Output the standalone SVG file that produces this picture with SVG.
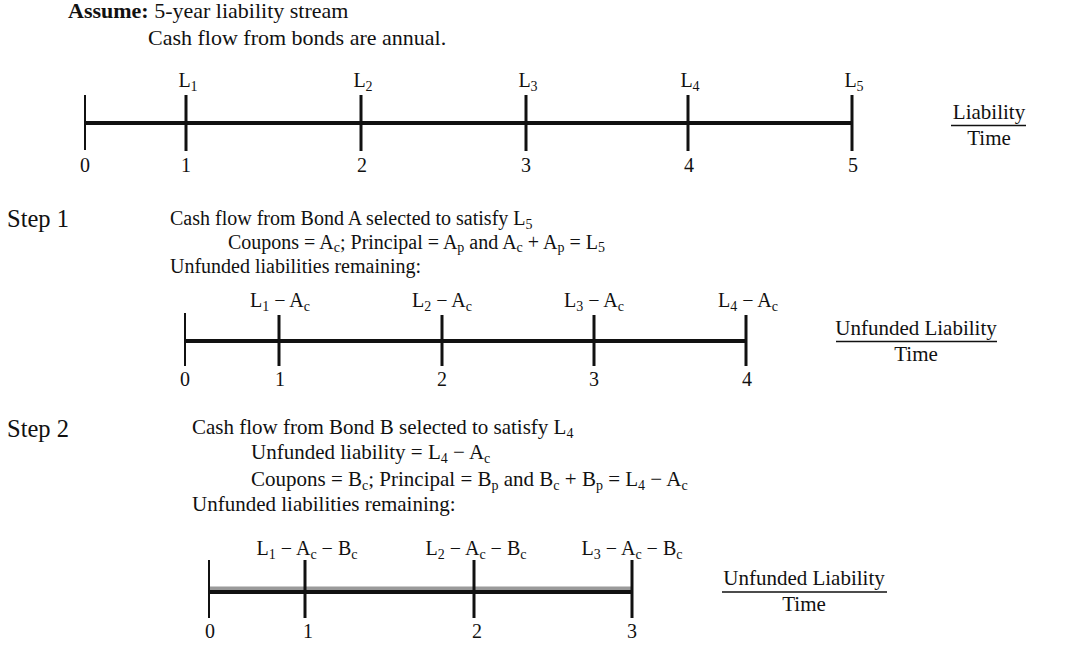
<svg xmlns="http://www.w3.org/2000/svg" width="1066" height="662" viewBox="0 0 1066 662">
<style>
text{font-family:"Liberation Serif","Times New Roman",serif;font-size:20px;fill:#111}
.hd{font-size:22px}
.b{font-weight:bold}
.step{font-size:24.5px}
.s2{font-size:21px}
.lg{font-size:21px}
.m{text-anchor:middle}
.sub{font-size:14px}
.axis{stroke:#111;stroke-width:4;fill:none}
.tick{stroke:#111;stroke-width:3;fill:none}
.tick0{stroke:#111;stroke-width:2;fill:none}
.frac{stroke:#111;stroke-width:1.5}
</style>
<rect width="1066" height="662" fill="#fff"/>

<g id="header">
<text class="hd" x="68" y="18"><tspan class="b">Assume:</tspan> 5-year liability stream</text>
<text class="hd" x="148" y="45">Cash flow from bonds are annual.</text>
</g>

<g id="timeline1">
<g id="t1-connectors">
<line class="axis" x1="85" y1="123" x2="852" y2="123"/>
<line class="tick0" x1="85" y1="95" x2="85" y2="150"/>
<line class="tick" x1="186" y1="95" x2="186" y2="151"/>
<line class="tick" x1="361" y1="95" x2="361" y2="151"/>
<line class="tick" x1="526" y1="95" x2="526" y2="151"/>
<line class="tick" x1="688" y1="95" x2="688" y2="151"/>
<line class="tick" x1="852" y1="95" x2="852" y2="151"/>
</g>
<text class="m" x="188" y="87">L<tspan class="sub" dy="4">1</tspan></text>
<text class="m" x="363" y="87">L<tspan class="sub" dy="4">2</tspan></text>
<text class="m" x="528" y="87">L<tspan class="sub" dy="4">3</tspan></text>
<text class="m" x="690" y="87">L<tspan class="sub" dy="4">4</tspan></text>
<text class="m" x="854" y="87">L<tspan class="sub" dy="4">5</tspan></text>
<text class="m" x="85" y="172">0</text>
<text class="m" x="186" y="172">1</text>
<text class="m" x="362" y="172">2</text>
<text class="m" x="526" y="172">3</text>
<text class="m" x="689" y="172">4</text>
<text class="m" x="853" y="172">5</text>
<g id="t1-legend">
<text class="m lg" x="989" y="119">Liability</text>
<line class="frac" x1="951" y1="125.5" x2="1026" y2="125.5"/>
<text class="m lg" x="989" y="145">Time</text>
</g>
</g>

<g id="step1">
<text class="step" x="7" y="227">Step 1</text>
<text x="170" y="225">Cash flow from Bond A selected to satisfy L<tspan class="sub" dy="4">5</tspan></text>
<text x="228" y="249">Coupons = A<tspan class="sub" dy="3">c</tspan><tspan dy="-3">; Principal = A</tspan><tspan class="sub" dy="3">p</tspan><tspan dy="-3"> and A</tspan><tspan class="sub" dy="3">c</tspan><tspan dy="-3"> + A</tspan><tspan class="sub" dy="3">p</tspan><tspan dy="-3"> = L</tspan><tspan class="sub" dy="3">5</tspan></text>
<text x="170" y="273">Unfunded liabilities remaining:</text>
</g>

<g id="timeline2">
<g id="t2-connectors">
<line class="axis" x1="185" y1="341" x2="746" y2="341" stroke-width="3.5"/>
<line class="tick0" x1="185" y1="313" x2="185" y2="366"/>
<line class="tick" x1="279" y1="315" x2="279" y2="366"/>
<line class="tick" x1="442" y1="315" x2="442" y2="366"/>
<line class="tick" x1="594" y1="315" x2="594" y2="366"/>
<line class="tick" x1="746" y1="315" x2="746" y2="366"/>
</g>
<text class="m" x="280" y="307">L<tspan class="sub" dy="4">1</tspan><tspan dy="-4"> − A</tspan><tspan class="sub" dy="4">c</tspan></text>
<text class="m" x="442" y="307">L<tspan class="sub" dy="4">2</tspan><tspan dy="-4"> − A</tspan><tspan class="sub" dy="4">c</tspan></text>
<text class="m" x="594" y="307">L<tspan class="sub" dy="4">3</tspan><tspan dy="-4"> − A</tspan><tspan class="sub" dy="4">c</tspan></text>
<text class="m" x="748" y="307">L<tspan class="sub" dy="4">4</tspan><tspan dy="-4"> − A</tspan><tspan class="sub" dy="4">c</tspan></text>
<text class="m" x="185" y="386">0</text>
<text class="m" x="280" y="386">1</text>
<text class="m" x="442" y="386">2</text>
<text class="m" x="594" y="386">3</text>
<text class="m" x="747" y="386">4</text>
<g id="t2-legend">
<text class="m lg" x="916" y="335">Unfunded Liability</text>
<line class="frac" x1="836" y1="341.5" x2="997" y2="341.5"/>
<text class="m lg" x="916" y="361">Time</text>
</g>
</g>

<g id="step2">
<text class="step" x="7" y="437">Step 2</text>
<text class="s2" x="192" y="434">Cash flow from Bond B selected to satisfy L<tspan class="sub" dy="4">4</tspan></text>
<text class="s2" x="251" y="459">Unfunded liability = L<tspan class="sub" dy="4">4</tspan><tspan dy="-4"> − A</tspan><tspan class="sub" dy="4">c</tspan></text>
<text class="s2" x="251" y="486">Coupons = B<tspan class="sub" dy="4">c</tspan><tspan dy="-4">; Principal = B</tspan><tspan class="sub" dy="4">p</tspan><tspan dy="-4"> and B</tspan><tspan class="sub" dy="4">c</tspan><tspan dy="-4"> + B</tspan><tspan class="sub" dy="4">p</tspan><tspan dy="-4"> = L</tspan><tspan class="sub" dy="4">4</tspan><tspan dy="-4"> − A</tspan><tspan class="sub" dy="4">c</tspan></text>
<text class="s2" x="192" y="511">Unfunded liabilities remaining:</text>
</g>

<g id="timeline3">
<g id="t3-connectors">
<line x1="209" y1="590" x2="632" y2="590" stroke="#9a9a9a" stroke-width="7"/>
<line class="axis" x1="209" y1="592" x2="632" y2="592" stroke-width="3"/>
<line class="tick0" x1="209" y1="560" x2="209" y2="618"/>
<line class="tick" x1="305" y1="560" x2="305" y2="618"/>
<line class="tick" x1="474" y1="560" x2="474" y2="618"/>
<line class="tick" x1="632" y1="560" x2="632" y2="618"/>
</g>
<text class="m" x="307" y="555">L<tspan class="sub" dy="4">1</tspan><tspan dy="-4"> − A</tspan><tspan class="sub" dy="4">c</tspan><tspan dy="-4"> − B</tspan><tspan class="sub" dy="4">c</tspan></text>
<text class="m" x="476" y="555">L<tspan class="sub" dy="4">2</tspan><tspan dy="-4"> − A</tspan><tspan class="sub" dy="4">c</tspan><tspan dy="-4"> − B</tspan><tspan class="sub" dy="4">c</tspan></text>
<text class="m" x="632" y="555">L<tspan class="sub" dy="4">3</tspan><tspan dy="-4"> − A</tspan><tspan class="sub" dy="4">c</tspan><tspan dy="-4"> − B</tspan><tspan class="sub" dy="4">c</tspan></text>
<text class="m" x="210" y="638">0</text>
<text class="m" x="308" y="638">1</text>
<text class="m" x="477" y="638">2</text>
<text class="m" x="632" y="638">3</text>
<g id="t3-legend">
<text class="m lg" x="804" y="585">Unfunded Liability</text>
<line class="frac" x1="722" y1="592" x2="887" y2="592"/>
<text class="m lg" x="804" y="611">Time</text>
</g>
</g>
</svg>
